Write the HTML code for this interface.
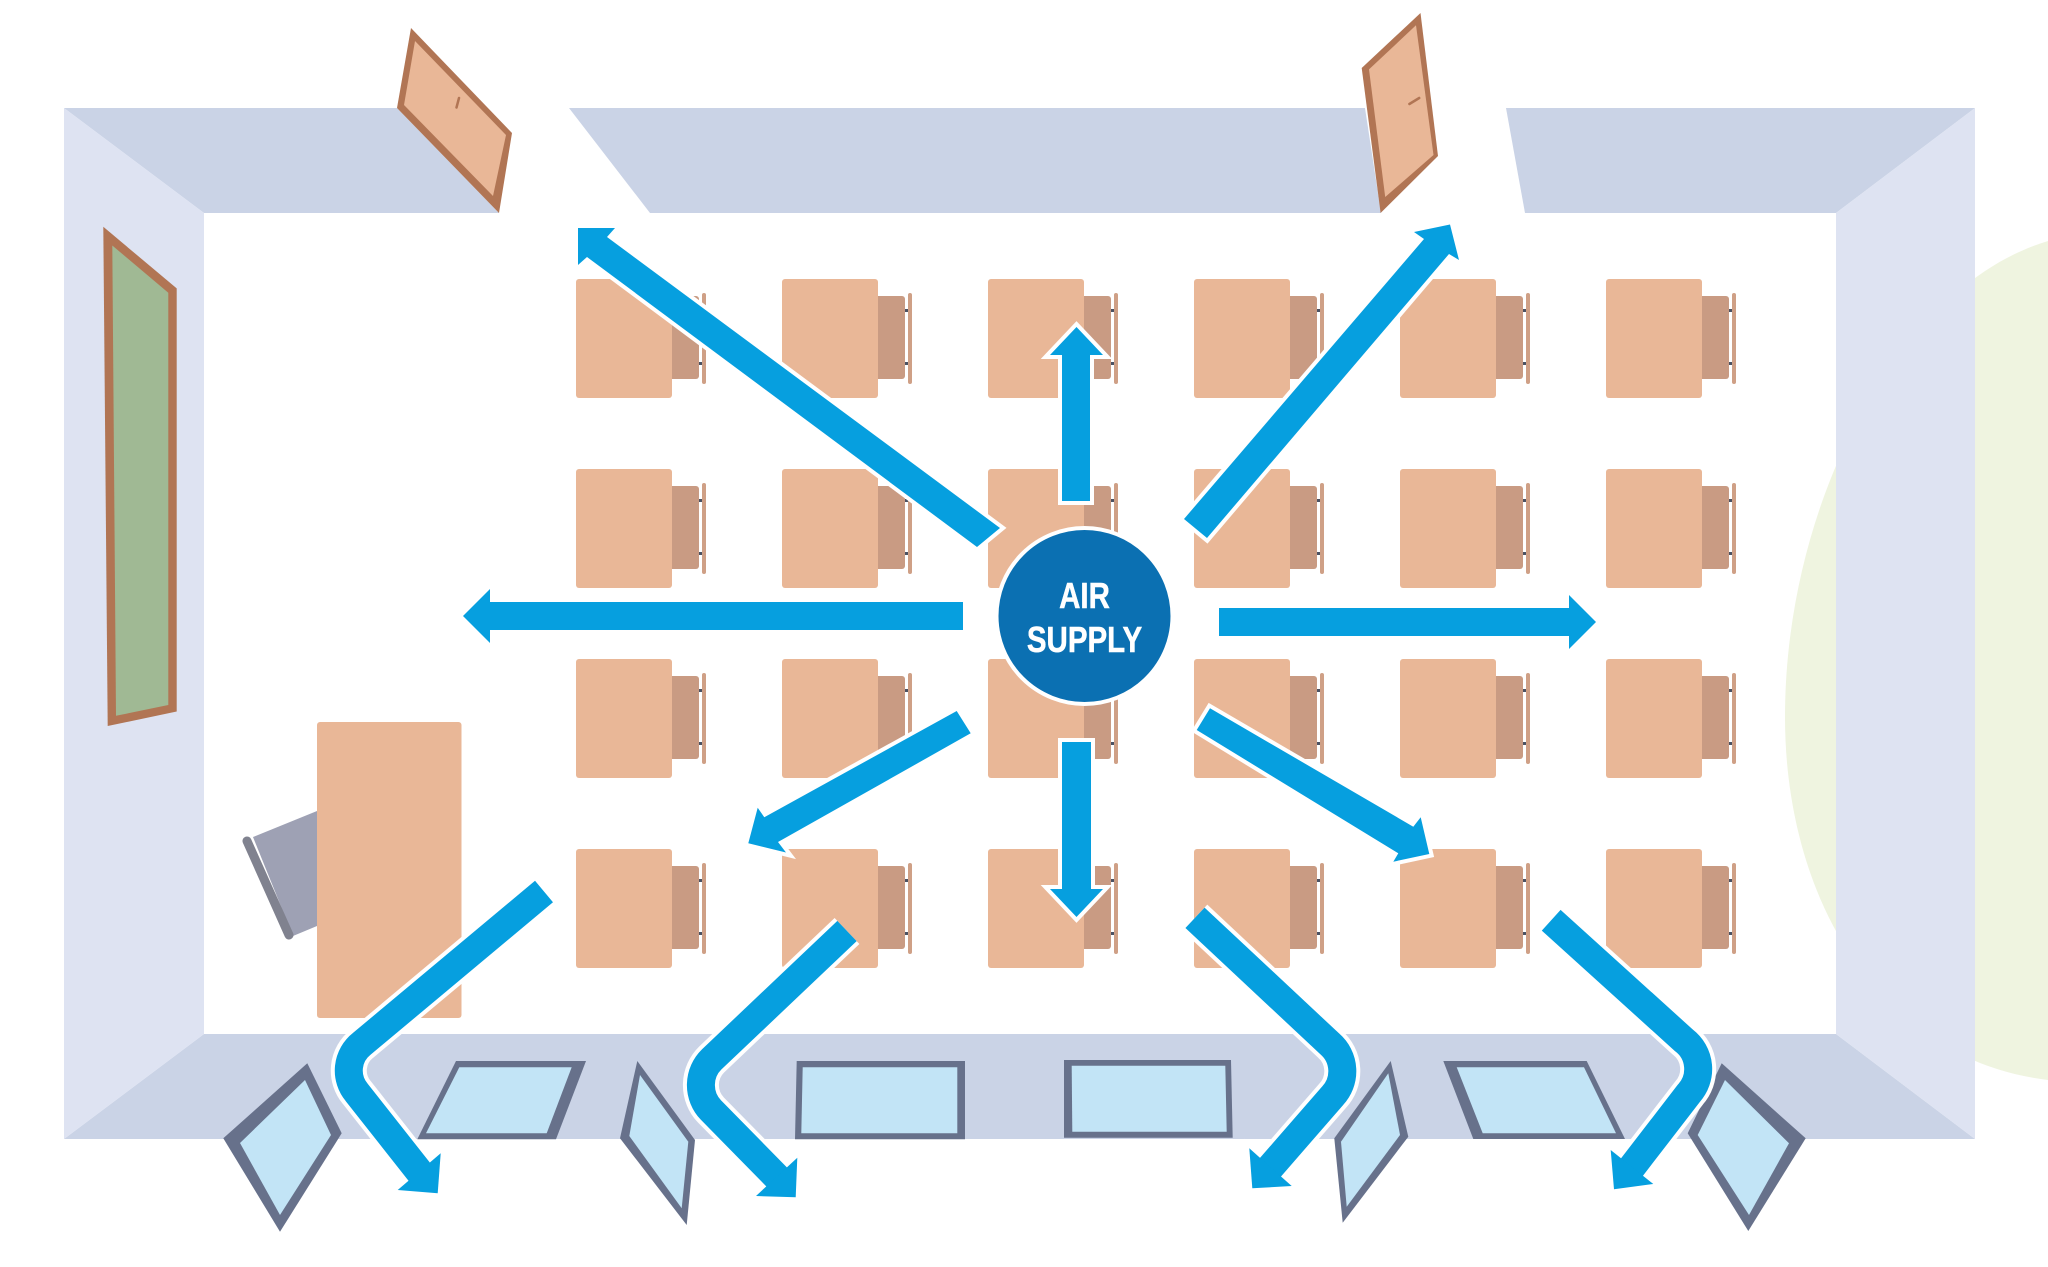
<!DOCTYPE html>
<html>
<head>
<meta charset="utf-8">
<style>
html,body{margin:0;padding:0;background:#ffffff;}
svg{display:block;}
</style>
</head>
<body>
<svg xmlns="http://www.w3.org/2000/svg" width="2048" height="1267" viewBox="0 0 2048 1267">
<rect width="2048" height="1267" fill="#ffffff"/>

<!-- green blob -->
<path d="M2048,241 C1900,285 1785,500 1785,717 C1785,900 1880,1060 2048,1080 Z" fill="#eff4e0"/>

<!-- walls -->
<polygon points="64,108 397,108 499,213 204,213" fill="#cad3e6"/>
<polygon points="569,108 1365,108 1381,213 650,213" fill="#cad3e6"/>
<polygon points="1506,108 1975,108 1836,213 1525,213" fill="#cad3e6"/>
<polygon points="64,1139 204,1034 1836,1034 1975,1139" fill="#cad3e6"/>
<polygon points="64,108 204,213 204,1034 64,1139" fill="#dee3f2"/>
<polygon points="1975,108 1836,213 1836,1034 1975,1139" fill="#dee3f2"/>

<!-- doors -->
<polygon points="411,28 512,133 499,213 397,108" fill="#b17554"/>
<polygon points="415,41 506,135 493,196 404,105" fill="#e9b797"/>
<line x1="459" y1="98" x2="456.5" y2="107.5" stroke="#b17554" stroke-width="2.5" stroke-linecap="round"/>

<polygon points="1420.5,13 1438,156 1380.6,213 1361.7,68" fill="#b17554"/>
<polygon points="1416,25.3 1433.5,155 1385.2,197 1369,69.4" fill="#e9b797"/>
<line x1="1409.4" y1="104" x2="1419.2" y2="98" stroke="#b17554" stroke-width="2.5" stroke-linecap="round"/>

<!-- blackboard -->
<polygon points="103.3,226.8 176.7,288.4 176.7,711.5 107.7,726" fill="#b17554"/>
<polygon points="112.3,245.5 168.3,292.7 168.3,705 116,715.8" fill="#a0b994"/>

<!-- teacher chair & desk -->
<polygon points="253,837 317,811 317,926 293,936" fill="#9ea1b4"/>
<line x1="247" y1="841" x2="289" y2="935" stroke="#80828f" stroke-width="9" stroke-linecap="round"/>
<rect x="317" y="722" width="144.5" height="296" rx="3" fill="#e9b797"/>

<!-- student desks -->
<g id="desks">
<g transform="translate(576,279)"><rect x="90" y="17" width="33" height="83" rx="3" fill="#c99b83"/><rect x="0" y="0" width="96" height="119" rx="3" fill="#e9b797"/><rect x="126" y="14" width="4" height="91" rx="2" fill="#cfa086"/><rect x="123" y="30" width="3" height="3" fill="#4b5263"/><rect x="123" y="83" width="3" height="3" fill="#4b5263"/></g>
<g transform="translate(782,279)"><rect x="90" y="17" width="33" height="83" rx="3" fill="#c99b83"/><rect x="0" y="0" width="96" height="119" rx="3" fill="#e9b797"/><rect x="126" y="14" width="4" height="91" rx="2" fill="#cfa086"/><rect x="123" y="30" width="3" height="3" fill="#4b5263"/><rect x="123" y="83" width="3" height="3" fill="#4b5263"/></g>
<g transform="translate(988,279)"><rect x="90" y="17" width="33" height="83" rx="3" fill="#c99b83"/><rect x="0" y="0" width="96" height="119" rx="3" fill="#e9b797"/><rect x="126" y="14" width="4" height="91" rx="2" fill="#cfa086"/><rect x="123" y="30" width="3" height="3" fill="#4b5263"/><rect x="123" y="83" width="3" height="3" fill="#4b5263"/></g>
<g transform="translate(1194,279)"><rect x="90" y="17" width="33" height="83" rx="3" fill="#c99b83"/><rect x="0" y="0" width="96" height="119" rx="3" fill="#e9b797"/><rect x="126" y="14" width="4" height="91" rx="2" fill="#cfa086"/><rect x="123" y="30" width="3" height="3" fill="#4b5263"/><rect x="123" y="83" width="3" height="3" fill="#4b5263"/></g>
<g transform="translate(1400,279)"><rect x="90" y="17" width="33" height="83" rx="3" fill="#c99b83"/><rect x="0" y="0" width="96" height="119" rx="3" fill="#e9b797"/><rect x="126" y="14" width="4" height="91" rx="2" fill="#cfa086"/><rect x="123" y="30" width="3" height="3" fill="#4b5263"/><rect x="123" y="83" width="3" height="3" fill="#4b5263"/></g>
<g transform="translate(1606,279)"><rect x="90" y="17" width="33" height="83" rx="3" fill="#c99b83"/><rect x="0" y="0" width="96" height="119" rx="3" fill="#e9b797"/><rect x="126" y="14" width="4" height="91" rx="2" fill="#cfa086"/><rect x="123" y="30" width="3" height="3" fill="#4b5263"/><rect x="123" y="83" width="3" height="3" fill="#4b5263"/></g>

<g transform="translate(576,469)"><rect x="90" y="17" width="33" height="83" rx="3" fill="#c99b83"/><rect x="0" y="0" width="96" height="119" rx="3" fill="#e9b797"/><rect x="126" y="14" width="4" height="91" rx="2" fill="#cfa086"/><rect x="123" y="30" width="3" height="3" fill="#4b5263"/><rect x="123" y="83" width="3" height="3" fill="#4b5263"/></g>
<g transform="translate(782,469)"><rect x="90" y="17" width="33" height="83" rx="3" fill="#c99b83"/><rect x="0" y="0" width="96" height="119" rx="3" fill="#e9b797"/><rect x="126" y="14" width="4" height="91" rx="2" fill="#cfa086"/><rect x="123" y="30" width="3" height="3" fill="#4b5263"/><rect x="123" y="83" width="3" height="3" fill="#4b5263"/></g>
<g transform="translate(988,469)"><rect x="90" y="17" width="33" height="83" rx="3" fill="#c99b83"/><rect x="0" y="0" width="96" height="119" rx="3" fill="#e9b797"/><rect x="126" y="14" width="4" height="91" rx="2" fill="#cfa086"/><rect x="123" y="30" width="3" height="3" fill="#4b5263"/><rect x="123" y="83" width="3" height="3" fill="#4b5263"/></g>
<g transform="translate(1194,469)"><rect x="90" y="17" width="33" height="83" rx="3" fill="#c99b83"/><rect x="0" y="0" width="96" height="119" rx="3" fill="#e9b797"/><rect x="126" y="14" width="4" height="91" rx="2" fill="#cfa086"/><rect x="123" y="30" width="3" height="3" fill="#4b5263"/><rect x="123" y="83" width="3" height="3" fill="#4b5263"/></g>
<g transform="translate(1400,469)"><rect x="90" y="17" width="33" height="83" rx="3" fill="#c99b83"/><rect x="0" y="0" width="96" height="119" rx="3" fill="#e9b797"/><rect x="126" y="14" width="4" height="91" rx="2" fill="#cfa086"/><rect x="123" y="30" width="3" height="3" fill="#4b5263"/><rect x="123" y="83" width="3" height="3" fill="#4b5263"/></g>
<g transform="translate(1606,469)"><rect x="90" y="17" width="33" height="83" rx="3" fill="#c99b83"/><rect x="0" y="0" width="96" height="119" rx="3" fill="#e9b797"/><rect x="126" y="14" width="4" height="91" rx="2" fill="#cfa086"/><rect x="123" y="30" width="3" height="3" fill="#4b5263"/><rect x="123" y="83" width="3" height="3" fill="#4b5263"/></g>

<g transform="translate(576,659)"><rect x="90" y="17" width="33" height="83" rx="3" fill="#c99b83"/><rect x="0" y="0" width="96" height="119" rx="3" fill="#e9b797"/><rect x="126" y="14" width="4" height="91" rx="2" fill="#cfa086"/><rect x="123" y="30" width="3" height="3" fill="#4b5263"/><rect x="123" y="83" width="3" height="3" fill="#4b5263"/></g>
<g transform="translate(782,659)"><rect x="90" y="17" width="33" height="83" rx="3" fill="#c99b83"/><rect x="0" y="0" width="96" height="119" rx="3" fill="#e9b797"/><rect x="126" y="14" width="4" height="91" rx="2" fill="#cfa086"/><rect x="123" y="30" width="3" height="3" fill="#4b5263"/><rect x="123" y="83" width="3" height="3" fill="#4b5263"/></g>
<g transform="translate(988,659)"><rect x="90" y="17" width="33" height="83" rx="3" fill="#c99b83"/><rect x="0" y="0" width="96" height="119" rx="3" fill="#e9b797"/><rect x="126" y="14" width="4" height="91" rx="2" fill="#cfa086"/><rect x="123" y="30" width="3" height="3" fill="#4b5263"/><rect x="123" y="83" width="3" height="3" fill="#4b5263"/></g>
<g transform="translate(1194,659)"><rect x="90" y="17" width="33" height="83" rx="3" fill="#c99b83"/><rect x="0" y="0" width="96" height="119" rx="3" fill="#e9b797"/><rect x="126" y="14" width="4" height="91" rx="2" fill="#cfa086"/><rect x="123" y="30" width="3" height="3" fill="#4b5263"/><rect x="123" y="83" width="3" height="3" fill="#4b5263"/></g>
<g transform="translate(1400,659)"><rect x="90" y="17" width="33" height="83" rx="3" fill="#c99b83"/><rect x="0" y="0" width="96" height="119" rx="3" fill="#e9b797"/><rect x="126" y="14" width="4" height="91" rx="2" fill="#cfa086"/><rect x="123" y="30" width="3" height="3" fill="#4b5263"/><rect x="123" y="83" width="3" height="3" fill="#4b5263"/></g>
<g transform="translate(1606,659)"><rect x="90" y="17" width="33" height="83" rx="3" fill="#c99b83"/><rect x="0" y="0" width="96" height="119" rx="3" fill="#e9b797"/><rect x="126" y="14" width="4" height="91" rx="2" fill="#cfa086"/><rect x="123" y="30" width="3" height="3" fill="#4b5263"/><rect x="123" y="83" width="3" height="3" fill="#4b5263"/></g>

<g transform="translate(576,849)"><rect x="90" y="17" width="33" height="83" rx="3" fill="#c99b83"/><rect x="0" y="0" width="96" height="119" rx="3" fill="#e9b797"/><rect x="126" y="14" width="4" height="91" rx="2" fill="#cfa086"/><rect x="123" y="30" width="3" height="3" fill="#4b5263"/><rect x="123" y="83" width="3" height="3" fill="#4b5263"/></g>
<g transform="translate(782,849)"><rect x="90" y="17" width="33" height="83" rx="3" fill="#c99b83"/><rect x="0" y="0" width="96" height="119" rx="3" fill="#e9b797"/><rect x="126" y="14" width="4" height="91" rx="2" fill="#cfa086"/><rect x="123" y="30" width="3" height="3" fill="#4b5263"/><rect x="123" y="83" width="3" height="3" fill="#4b5263"/></g>
<g transform="translate(988,849)"><rect x="90" y="17" width="33" height="83" rx="3" fill="#c99b83"/><rect x="0" y="0" width="96" height="119" rx="3" fill="#e9b797"/><rect x="126" y="14" width="4" height="91" rx="2" fill="#cfa086"/><rect x="123" y="30" width="3" height="3" fill="#4b5263"/><rect x="123" y="83" width="3" height="3" fill="#4b5263"/></g>
<g transform="translate(1194,849)"><rect x="90" y="17" width="33" height="83" rx="3" fill="#c99b83"/><rect x="0" y="0" width="96" height="119" rx="3" fill="#e9b797"/><rect x="126" y="14" width="4" height="91" rx="2" fill="#cfa086"/><rect x="123" y="30" width="3" height="3" fill="#4b5263"/><rect x="123" y="83" width="3" height="3" fill="#4b5263"/></g>
<g transform="translate(1400,849)"><rect x="90" y="17" width="33" height="83" rx="3" fill="#c99b83"/><rect x="0" y="0" width="96" height="119" rx="3" fill="#e9b797"/><rect x="126" y="14" width="4" height="91" rx="2" fill="#cfa086"/><rect x="123" y="30" width="3" height="3" fill="#4b5263"/><rect x="123" y="83" width="3" height="3" fill="#4b5263"/></g>
<g transform="translate(1606,849)"><rect x="90" y="17" width="33" height="83" rx="3" fill="#c99b83"/><rect x="0" y="0" width="96" height="119" rx="3" fill="#e9b797"/><rect x="126" y="14" width="4" height="91" rx="2" fill="#cfa086"/><rect x="123" y="30" width="3" height="3" fill="#4b5263"/><rect x="123" y="83" width="3" height="3" fill="#4b5263"/></g>
</g>

<!-- windows -->
<g>
<polygon points="307.3,1063.3 341.7,1133.3 280,1231.7 223.3,1138.3" fill="#67718b"/>
<polygon points="305,1080 331,1135 280,1215 240,1143" fill="#c2e4f6"/>

<polygon points="456,1061 586,1061 556,1139.3 417.3,1139.3" fill="#67718b"/>
<polygon points="459.3,1067.3 571.7,1067.3 546.7,1133.3 426,1133.3" fill="#c2e4f6"/>

<polygon points="637.3,1061 695,1140 686.7,1225 620,1138.3" fill="#67718b"/>
<polygon points="640,1075 688.3,1141.7 681.7,1208.3 629.3,1136" fill="#c2e4f6"/>

<polygon points="796.7,1061 965,1061 965,1139.3 795,1139.3" fill="#67718b"/>
<polygon points="802.7,1067.3 957.3,1067.3 957.3,1133.3 801.3,1133.3" fill="#c2e4f6"/>

<polygon points="1064,1060 1231,1060 1232.7,1137.7 1064,1137.7" fill="#67718b"/>
<polygon points="1071.7,1065.7 1225.3,1065.7 1226.7,1131.7 1072.3,1131.7" fill="#c2e4f6"/>

<polygon points="1390.7,1061 1408.3,1136.7 1342.7,1222.7 1334.3,1138.3" fill="#67718b"/>
<polygon points="1388.3,1073.3 1400,1135 1346.7,1206.7 1341,1141.7" fill="#c2e4f6"/>

<polygon points="1443.3,1061 1586.7,1061 1625,1139 1473.3,1139" fill="#67718b"/>
<polygon points="1456.7,1067.3 1584,1067.3 1616,1133.3 1482.7,1133.3" fill="#c2e4f6"/>

<polygon points="1721.7,1063.3 1805.7,1138.3 1748.3,1231 1687.7,1133.3" fill="#67718b"/>
<polygon points="1725,1080 1789,1143.3 1749,1215 1697.7,1135" fill="#c2e4f6"/>
</g>

<!-- straight arrows -->
<g fill="#069fdf" stroke="#ffffff" stroke-width="8" stroke-linejoin="miter" paint-order="stroke">
<polygon points="578,228 615,228 607,237 1000,528 977,547 587,257 578,265"/>
<polygon points="1062,501 1062,355 1050,355 1076.5,327 1103,355 1090,355 1090,501"/>
<polygon points="1450,224.5 1459,260 1449,254 1207,538 1184,519 1424,239 1414,232"/>
<polygon points="963,602 490,602 490,589 463,616 490,643 490,630 963,630"/>
<polygon points="1219,608 1569,608 1569,595 1596,622 1569,649 1569,636 1219,636"/>
<polygon points="956.7,711 970.7,733.3 778,842 786,852.5 748.3,843.3 757.7,807.7 764.3,817.3"/>
<polygon points="1062,742 1091,742 1091,889 1103,889 1076.5,917 1050,889 1062,889"/>
<polygon points="1210,708.3 1196.7,730 1398.3,853.3 1393.3,861.7 1429.3,854 1420.7,817.3 1413.3,826.7"/>
</g>

<!-- curved arrows: white outlines -->
<g fill="none" stroke="#ffffff" stroke-width="36" stroke-linejoin="round">
<path d="M544,891.5 L361.7,1043.9 A34 34 0 0 0 356.7,1092.4 L419.2,1171.7"/>
<path d="M847,931 L711.7,1059.4 A36 36 0 0 0 710.8,1109.9 L776.7,1176.9"/>
<path d="M1195,917.8 L1329.9,1044 A36 36 0 0 1 1332.6,1095.8 L1270.5,1167.2"/>
<path d="M1551.2,920.2 L1684.2,1040.6 A36 36 0 0 1 1688.9,1093.2 L1632,1167"/>
</g>
<g fill="#ffffff" stroke="#ffffff" stroke-width="8" stroke-linejoin="miter">
<polygon points="397.7,1190 437.7,1193.3 440.7,1153.3"/>
<polygon points="756,1196 795.7,1197.3 797.3,1157.7"/>
<polygon points="1249.3,1148.3 1252.3,1188.3 1291.7,1186"/>
<polygon points="1610.7,1150 1614,1189.3 1653.3,1184"/>
</g>
<!-- curved arrows: blue -->
<g fill="none" stroke="#069fdf" stroke-width="28" stroke-linejoin="round">
<path d="M544,891.5 L361.7,1043.9 A34 34 0 0 0 356.7,1092.4 L420,1172.7"/>
<path d="M847,931 L711.7,1059.4 A36 36 0 0 0 710.8,1109.9 L777.5,1177.8"/>
<path d="M1195,917.8 L1329.9,1044 A36 36 0 0 1 1332.6,1095.8 L1269.8,1168"/>
<path d="M1551.2,920.2 L1684.2,1040.6 A36 36 0 0 1 1688.9,1093.2 L1631.4,1167.8"/>
</g>
<g fill="#069fdf">
<polygon points="397.7,1190 437.7,1193.3 440.7,1153.3"/>
<polygon points="756,1196 795.7,1197.3 797.3,1157.7"/>
<polygon points="1249.3,1148.3 1252.3,1188.3 1291.7,1186"/>
<polygon points="1610.7,1150 1614,1189.3 1653.3,1184"/>
</g>

<!-- air supply circle -->
<circle cx="1084.5" cy="616" r="88" fill="#0b70b2" stroke="#ffffff" stroke-width="4"/>
<g font-family="'Liberation Sans', Arial, sans-serif" font-weight="bold" font-size="36" fill="#ffffff" stroke="#ffffff" stroke-width="0.5" text-anchor="middle">
<text transform="translate(1084.5,608) scale(0.82,1)">AIR</text>
<text transform="translate(1084.5,652) scale(0.82,1)">SUPPLY</text>
</g>
</svg>
</body>
</html>
